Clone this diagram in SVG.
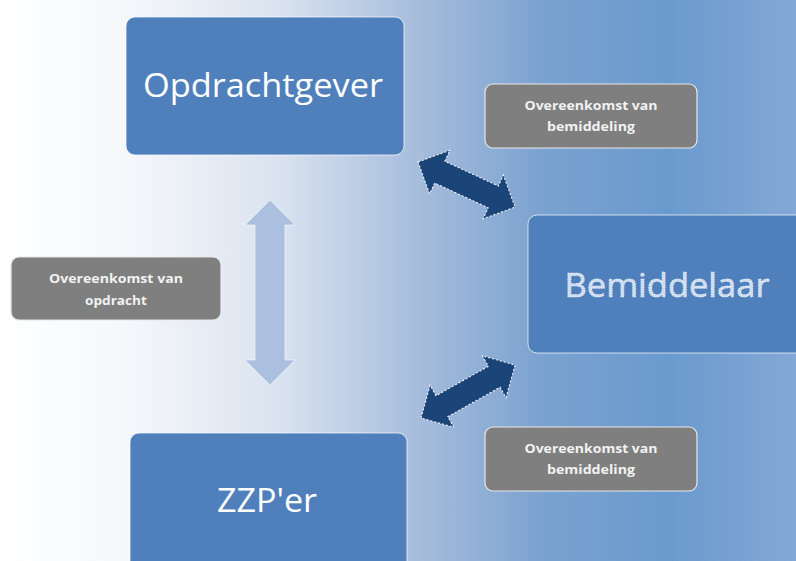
<svg xmlns="http://www.w3.org/2000/svg" width="796" height="561" viewBox="0 0 796 561">
<defs>
<linearGradient id="bg" x1="0" y1="0" x2="1" y2="0">
<stop offset="0" stop-color="#ffffff"/>
<stop offset="0.15" stop-color="#f6f8fb"/>
<stop offset="0.35" stop-color="#dae3f0"/>
<stop offset="0.52" stop-color="#a8bedd"/>
<stop offset="0.68" stop-color="#7ba2d0"/>
<stop offset="0.84" stop-color="#6a9acd"/>
<stop offset="1" stop-color="#84a8d6"/>
</linearGradient>
<style>
.node{fill:#4f80bc;stroke:#ffffff;stroke-opacity:0.7;stroke-width:1}
.ntext{font-family:"Open Sans","Noto Sans",sans-serif;fill:#ffffff;text-anchor:middle}
.lbl{fill:#7f7f7f;stroke:#e8e8e8;stroke-width:1.2}
.ltext{font-family:"Open Sans","Noto Sans",sans-serif;font-weight:bold;font-size:12px;fill:#f2f2f2;text-anchor:middle}
.dark{fill:#1b4478;stroke:#ffffff;stroke-width:1;stroke-dasharray:2 2}
.light{fill:#abbfdf;stroke:#ffffff;stroke-width:0.8;stroke-opacity:0.7}
</style>
</defs>
<rect x="0" y="0" width="796" height="561" fill="url(#bg)"/>

<g id="connectors">
<polygon class="light" points="270,200 295,225 285,225 285,360 295,360 270,385 245,360 255,360 255,225 245,225"/>
<polygon class="dark" transform="translate(418,162) rotate(24.9)" points="0,0 24,-24 24,-12 83,-12 83,-24 107,0 83,24 83,12 24,12 24,24"/>
<polygon class="dark" transform="translate(421,418) rotate(-29.4)" points="0,0 24,-24 24,-12 84,-12 84,-24 108,0 84,24 84,12 24,12 24,24"/>
</g>

<g id="opdrachtgever">
<rect class="node" x="126" y="17" width="278" height="138" rx="9"/>
<text class="ntext" x="263" y="97" font-size="33" textLength="240" lengthAdjust="spacingAndGlyphs">Opdrachtgever</text>
</g>

<g id="bemiddelaar">
<rect class="node" x="528" y="215" width="290" height="138" rx="9"/>
<text class="ntext" x="667" y="297" font-size="33" textLength="205" lengthAdjust="spacingAndGlyphs" style="fill:#cddcf0;stroke:#ffffff;stroke-width:0.6;stroke-dasharray:1.5 1">Bemiddelaar</text>
</g>

<g id="zzper">
<rect class="node" x="130" y="433" width="277" height="150" rx="9"/>
<text class="ntext" x="267" y="512" font-size="33" textLength="100" lengthAdjust="spacingAndGlyphs">ZZP'er</text>
</g>

<g id="label-top">
<rect class="lbl" x="485" y="84" width="212" height="64" rx="8"/>
<text class="ltext" x="591" y="110" textLength="133" lengthAdjust="spacingAndGlyphs">Overeenkomst van</text>
<text class="ltext" x="591" y="131" textLength="88" lengthAdjust="spacingAndGlyphs">bemiddeling</text>
</g>

<g id="label-left">
<rect class="lbl" x="11" y="257" width="210" height="63" rx="8"/>
<text class="ltext" x="116" y="283" textLength="134" lengthAdjust="spacingAndGlyphs">Overeenkomst van</text>
<text class="ltext" x="116" y="305" textLength="62" lengthAdjust="spacingAndGlyphs">opdracht</text>
</g>

<g id="label-bottom">
<rect class="lbl" x="485" y="427" width="212" height="64" rx="8"/>
<text class="ltext" x="591" y="453" textLength="133" lengthAdjust="spacingAndGlyphs">Overeenkomst van</text>
<text class="ltext" x="591" y="474" textLength="88" lengthAdjust="spacingAndGlyphs">bemiddeling</text>
</g>
</svg>
